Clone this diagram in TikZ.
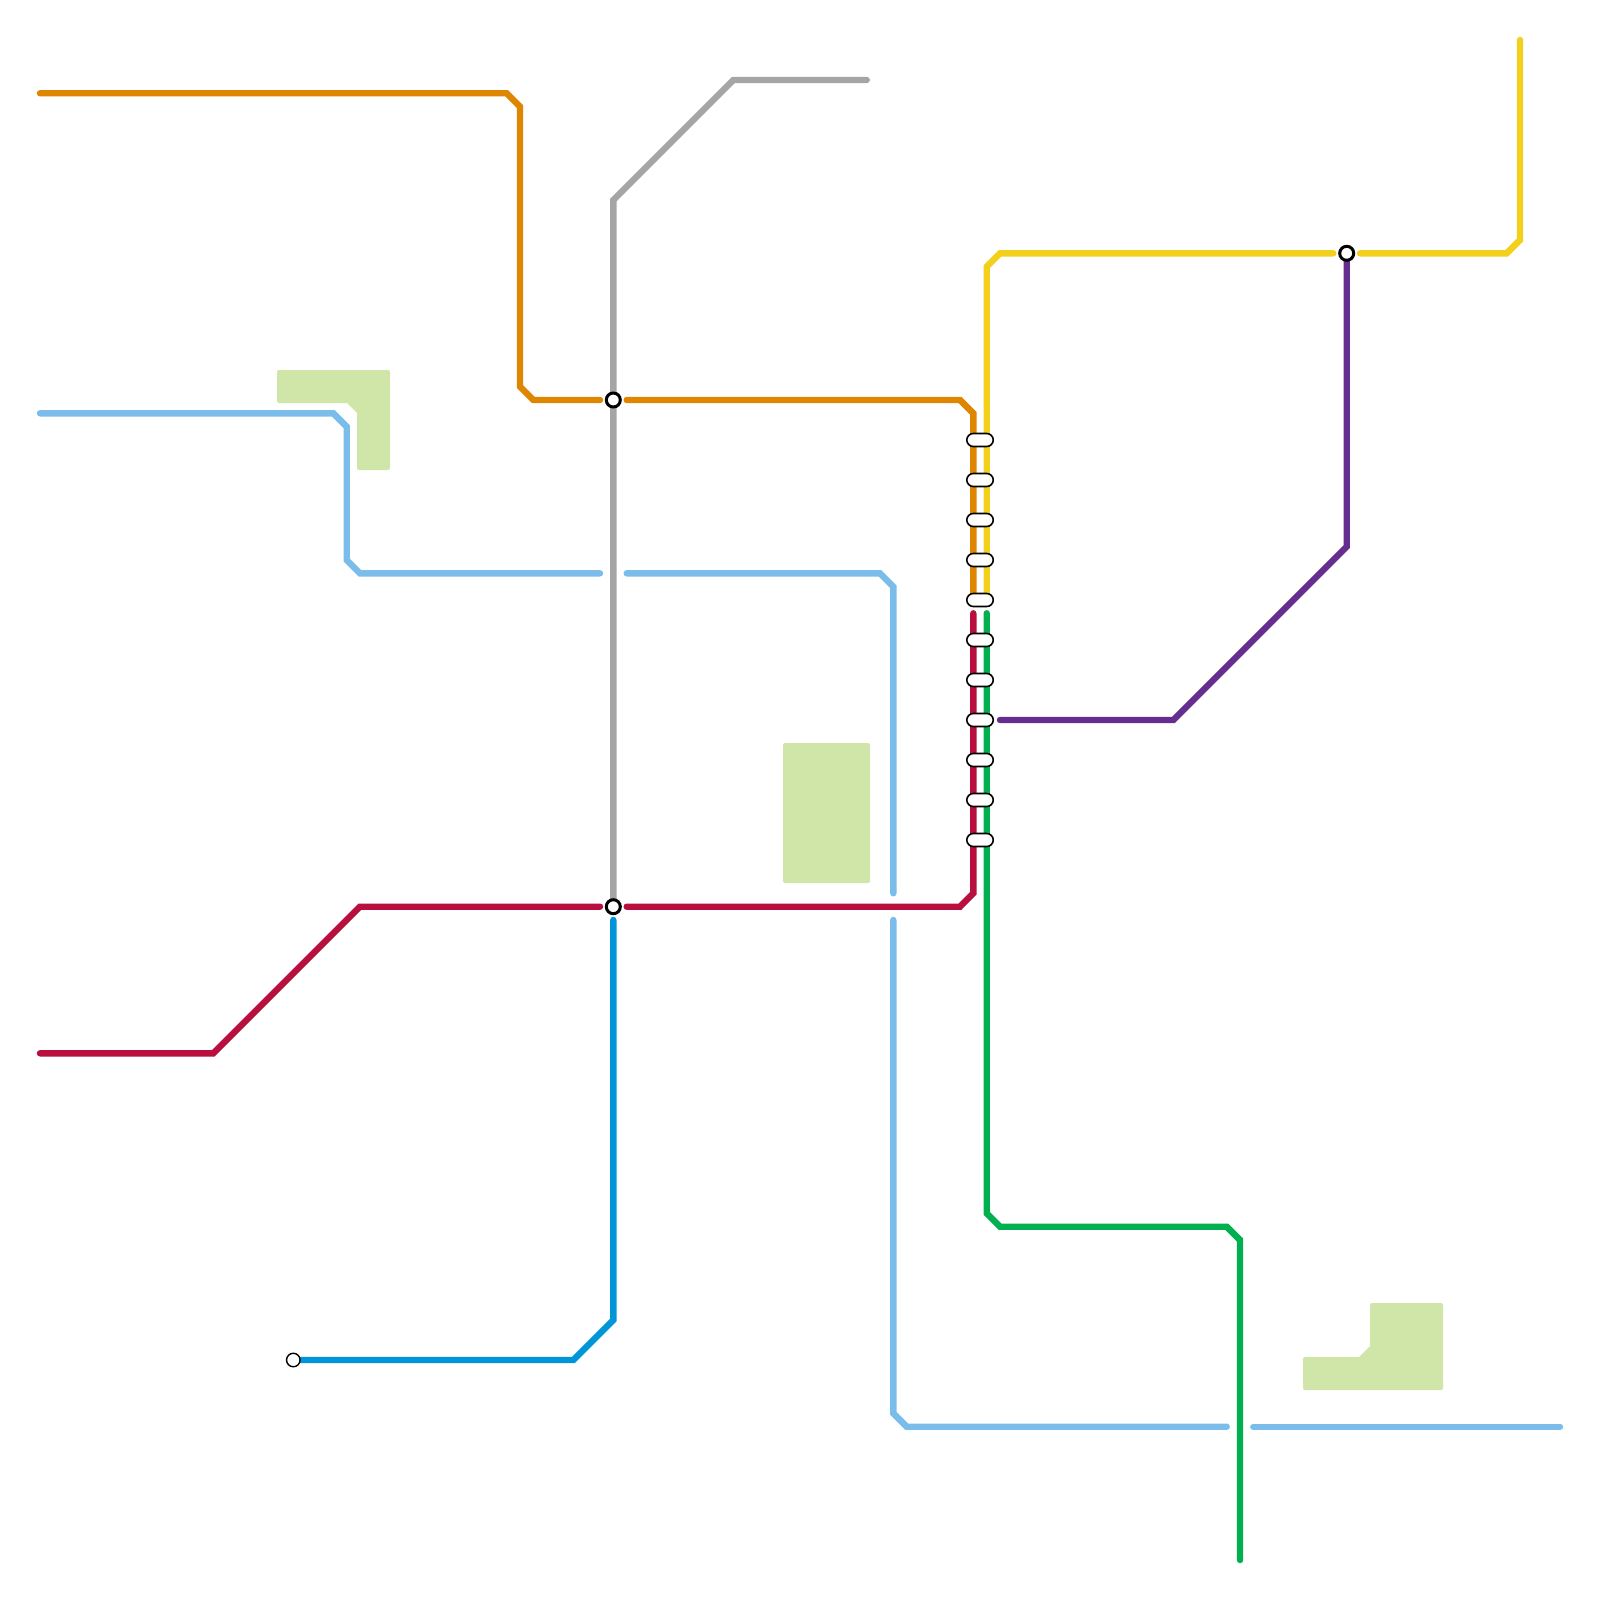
\documentclass[tikz,border=0pt]{standalone}
\usetikzlibrary{backgrounds}
\definecolor{parkgreen}{HTML}{D0E5A8}
\definecolor{lineorange}{HTML}{DF8600}
\definecolor{linegray}{HTML}{A5A5A5}
\definecolor{linesky}{HTML}{7ABDEA}
\definecolor{linered}{HTML}{B80F3E}
\definecolor{lineblue}{HTML}{0095D9}
\definecolor{linegreen}{HTML}{00B050}
\definecolor{lineyellow}{HTML}{F2D01C}
\definecolor{linepurple}{HTML}{662D91}

\begin{document}
\begin{tikzpicture}[
    x=0.01cm, y=-0.01cm,
    route/.style={line width=0.064cm, line cap=round, miter limit=10},
    park/.style={fill=parkgreen, rounded corners=0.02cm},
    hub/.style={circle, draw, fill=white, line width=0.03cm, minimum size=0.14cm, inner sep=0pt},
    halt/.style={circle, draw, fill=white, line width=0.014cm, minimum size=0.135cm, inner sep=0pt},
    pill/.style={draw, fill=white, line width=0.016cm, rounded corners=0.066cm, minimum width=0.265cm, minimum height=0.13cm, inner sep=0pt}
]
\useasboundingbox (0,0) rectangle (1600,1600);
% parks
\fill[park] (277,370) -- (390,370) -- (390,470) -- (357,470) [sharp corners] -- (357,413) -- (347,403) [rounded corners=0.02cm] -- (277,403) -- cycle;
\fill[park] (783,743) rectangle (870,883);
\fill[park] (1303,1357) [sharp corners] -- (1359,1357) -- (1370,1346) [rounded corners=0.02cm] -- (1370,1303) -- (1443,1303) -- (1443,1390) -- (1303,1390) -- cycle;
% stations
\node[hub] (hubN) at (613.3,400) {};
\node[hub] (hubS) at (613.3,906.7) {};
\node[hub] (hubE) at (1346.7,253.3) {};
\node[halt] (terminus) at (293.3,1360) {};
\foreach \y [count=\i] in {440,480,...,840}
    \node[pill] (pill\i) at (980,\y) {};
% line ends
\coordinate (orangeW) at (40,93.3);
\coordinate (orangeA) at (600,400);
\coordinate (orangeB) at (626.7,400);
\coordinate (orangeE) at (973.3,600);
\coordinate (grayE) at (866.7,80);
\coordinate (skyW) at (40,413.3);
\coordinate (skyA) at (600,573.3);
\coordinate (skyB) at (626.7,573.3);
\coordinate (skyC) at (893.3,893.3);
\coordinate (skyD) at (893.3,920);
\coordinate (skyF) at (1226.7,1426.7);
\coordinate (skyG) at (1253.3,1426.7);
\coordinate (skyE) at (1560,1426.7);
\coordinate (redW) at (40,1053.3);
\coordinate (redA) at (600,906.7);
\coordinate (redB) at (626.7,906.7);
\coordinate (redE) at (973.3,613.3);
\coordinate (blueN) at (613.3,920);
\coordinate (greenN) at (986.7,613.3);
\coordinate (greenS) at (1240,1560);
\coordinate (yellowS) at (986.7,600);
\coordinate (yellowA) at (1333.3,253.3);
\coordinate (yellowB) at (1360,253.3);
\coordinate (yellowN) at (1520,40);
\coordinate (purpleW) at (1000,720);
% lines
\begin{scope}[on background layer]
\draw[route, lineorange] (orangeW) -- (506.7,93.3) -- (520,106.7) -- (520,386.7) -- (533.3,400) -- (orangeA);
\draw[route, lineorange] (orangeB) -- (960,400) -- (973.3,413.3) -- (orangeE);
\draw[route, linegray] (hubS.center) -- (613.3,200) -- (733.3,80) -- (grayE);
\draw[route, linesky] (skyW) -- (333.3,413.3) -- (346.7,426.7) -- (346.7,560) -- (360,573.3) -- (skyA);
\draw[route, linesky] (skyB) -- (880,573.3) -- (893.3,586.7) -- (skyC);
\draw[route, linesky] (skyD) -- (893.3,1413.3) -- (906.7,1426.7) -- (skyF);
\draw[route, linesky] (skyG) -- (skyE);
\draw[route, linered] (redW) -- (213.3,1053.3) -- (360,906.7) -- (redA);
\draw[route, linered] (redB) -- (960,906.7) -- (973.3,893.3) -- (redE);
\draw[route, lineblue] (blueN) -- (613.3,1320) -- (573.3,1360) -- (terminus);
\draw[route, linegreen] (greenN) -- (986.7,1213.3) -- (1000,1226.7) -- (1226.7,1226.7) -- (1240,1240) -- (greenS);
\draw[route, lineyellow] (yellowS) -- (986.7,266.7) -- (1000,253.3) -- (yellowA);
\draw[route, lineyellow] (yellowB) -- (1506.7,253.3) -- (1520,240) -- (yellowN);
\draw[route, linepurple] (purpleW) -- (1173.3,720) -- (1346.7,546.7) -- (hubE);
\end{scope}
\end{tikzpicture}
\end{document}
